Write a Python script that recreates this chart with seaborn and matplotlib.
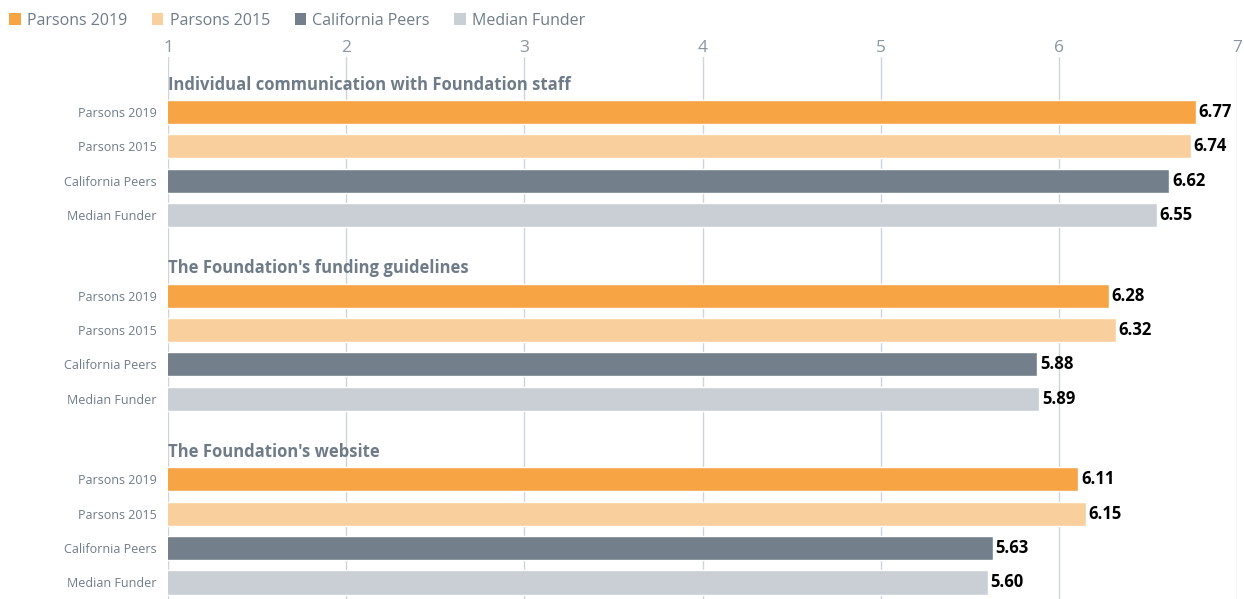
import matplotlib
matplotlib.use("Agg")
import matplotlib.pyplot as plt
from matplotlib.patches import Patch
import seaborn as sns
import pandas as pd

groups = ["Individual communication with Foundation staff",
          "The Foundation's funding guidelines",
          "The Foundation's website"]
series = ["Parsons 2019", "Parsons 2015", "California Peers", "Median Funder"]
values_comm = [6.77, 6.74, 6.62, 6.55]
values_guidelines = [6.28, 6.32, 5.88, 5.89]
values_website = [6.11, 6.15, 5.63, 5.60]
x_ticks = [1, 2, 3, 4, 5, 6, 7]

colors = ["#f7a445", "#f9cf9d", "#737f8b", "#c9cfd5"]
label_gray = "#6f7c88"
grid_gray = "#cfd4d9"

group_gap = 5.34
rows = []
for g, vals in enumerate([values_comm, values_guidelines, values_website]):
    for i, (s, v) in enumerate(zip(series, vals)):
        rows.append({"group": groups[g], "series": s, "value": v,
                     "pos": g * group_gap + i})
df = pd.DataFrame(rows)

sns.set_theme(style="white")
plt.rcParams["font.family"] = ["Open Sans", "DejaVu Sans"]

fig = plt.figure(figsize=(12.44, 5.99), dpi=100)
ax = fig.add_axes([168 / 1244, 0.0, (1237 - 168) / 1244, 1 - 57 / 599])

sns.barplot(data=df, x="value", y="pos", hue="series", palette=colors,
            hue_order=series, orient="y", native_scale=True, dodge=False,
            width=0.7, saturation=1, legend=False, ax=ax, zorder=3)

ax.set_xlim(1, 7)
ax.set_ylim(14.16, -1.6)
ax.xaxis.tick_top()
ax.set_xticks(x_ticks)
ax.set_xticklabels([str(t) for t in x_ticks], fontsize=12.5, color="#8a96a0")
ax.tick_params(axis="x", length=0, pad=1)
ax.grid(axis="x", color=grid_gray, linewidth=1, zorder=0)
ax.grid(axis="y", visible=False)
ax.set_axisbelow(True)
for sp in ax.spines.values():
    sp.set_visible(False)

ax.set_yticks(df["pos"].tolist())
ax.set_yticklabels(df["series"].tolist(), fontsize=9, color=label_gray)
ax.tick_params(axis="y", length=0, pad=8)
ax.set_xlabel("")
ax.set_ylabel("")

for c in ax.containers:
    ax.bar_label(c, fmt="%.2f", padding=2, fontsize=12, fontweight="bold",
                 color="black")

for g, name in enumerate(groups):
    ax.text(1.0, g * group_gap - 0.8, name, fontsize=12, fontweight="bold",
            color=label_gray, va="center", ha="left")

handles = [Patch(facecolor=c, edgecolor="none") for c in colors]
fig.legend(handles, series, loc="upper left", bbox_to_anchor=(-0.004, 1.003),
           ncol=4, frameon=False, fontsize=11.5, labelcolor=label_gray,
           handlelength=0.7, handleheight=0.7, handletextpad=0.4,
           columnspacing=1.55)

fig.savefig("out.png", dpi=100)
